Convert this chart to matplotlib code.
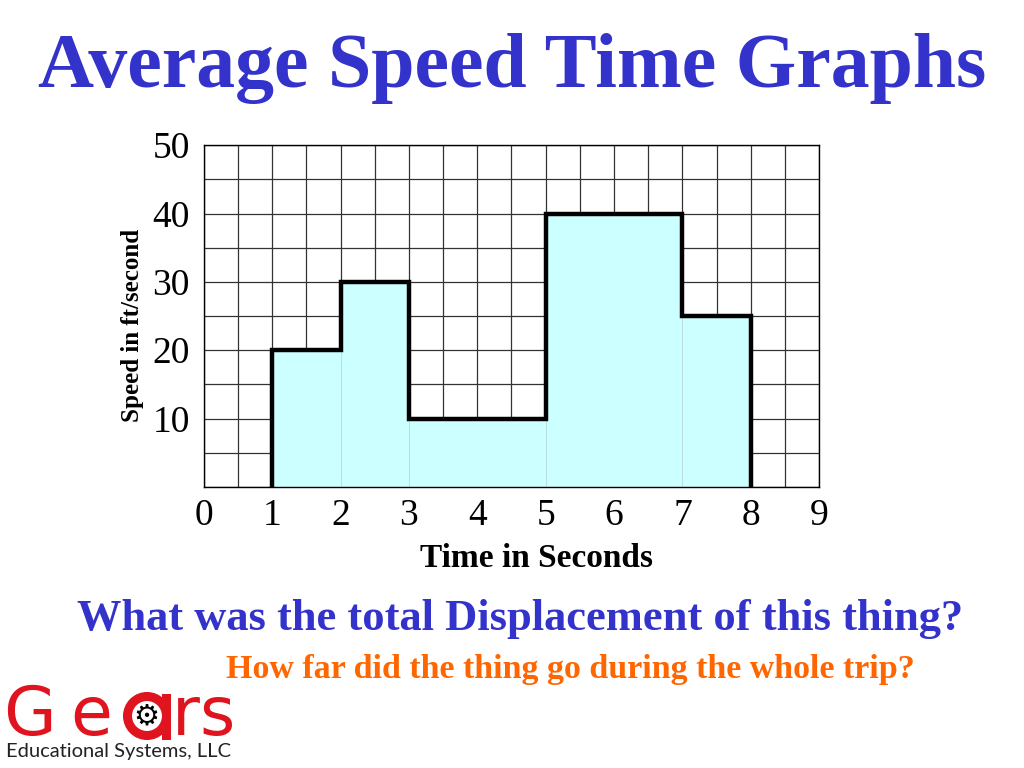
import matplotlib.pyplot as plt
from matplotlib.patches import Ellipse
import numpy as np

# step data
t_start = [1, 2, 3, 5, 7]
t_end = [2, 3, 5, 7, 8]
speed = [20, 30, 10, 40, 25]

x_ticks = [0, 1, 2, 3, 4, 5, 6, 7, 8, 9]
y_ticks = [10, 20, 30, 40, 50]

blue = '#3333CC'
orange = '#FF6600'
red = '#E0141E'
W, H = 1024, 768

fig = plt.figure(figsize=(10.24, 7.68), dpi=100)
ax = fig.add_axes([0.199, 0.366, 0.601, 0.445])

# grid every half second / 5 ft/s
for gx in np.arange(0, 9.01, 0.5):
    ax.axvline(gx, color='#333333', lw=0.9, zorder=1)
for gy in np.arange(0, 50.01, 5):
    ax.axhline(gy, color='#333333', lw=0.9, zorder=1)

# filled bars
for a, b, v in zip(t_start, t_end, speed):
    ax.bar(a, v, width=b - a, align='edge', color='#CCFFFF',
           edgecolor='#BBDDDD', lw=0.6, zorder=2)

# thick outline of the steps
xs = [t_start[0]]
ys = [0]
for a, b, v in zip(t_start, t_end, speed):
    xs += [a, b]
    ys += [v, v]
xs.append(t_end[-1])
ys.append(0)
ax.plot(xs, ys, color='black', lw=3.2, zorder=3, solid_joinstyle='miter')

ax.set_xlim(0, 9)
ax.set_ylim(0, 50)
ax.set_xticks(x_ticks)
ax.set_yticks(y_ticks)
ax.tick_params(length=0, labelsize=27)
ax.tick_params(axis='y', pad=10)
ax.tick_params(axis='x', pad=8)
for lab in ax.get_xticklabels() + ax.get_yticklabels():
    lab.set_fontfamily('Liberation Serif')
for s in ax.spines.values():
    s.set_color('black')
    s.set_linewidth(1)
    s.set_zorder(4)

# axis titles
fig.text(537 / W, 1 - 567 / H, 'Time in Seconds', ha='center', va='baseline',
         fontsize=24, fontweight='bold', family='Liberation Serif')
fig.text(132 / W, 1 - 325 / H, 'Speed in ft/second', ha='center', va='center',
         rotation=90, fontsize=18, fontweight='bold', family='Liberation Serif')

fig.text(0.5, 0.887, 'Average Speed Time Graphs', ha='center', va='baseline',
         fontsize=56, fontweight='bold', color=blue, family='Liberation Serif')
fig.text(0.508, 0.180, 'What was the total Displacement of this thing?', ha='center',
         va='baseline', fontsize=32, fontweight='bold', color=blue,
         family='Liberation Serif')
fig.text(570 / W, 1 - 678 / H, 'How far did the thing go during the whole trip?',
         ha='center', va='baseline', fontsize=24.5, fontweight='bold', color=orange,
         family='Liberation Serif')

# logo: G e (ring with gear) r s
base = 1 - 735 / H
for ch, px in [('G', 3), ('e', 70), ('r', 172), ('s', 199)]:
    fig.text(px / W, base, ch, ha='left', va='baseline', fontsize=49,
             color=red, family='DejaVu Sans')
r_out = 19.5
ring = Ellipse((147 / W, 1 - 716 / H), 2 * r_out / W, 2 * r_out / H,
               transform=fig.transFigure, facecolor='white', edgecolor=red, lw=6.5)
fig.add_artist(ring)
stem = plt.Line2D([166 / W, 166 / W], [1 - 698 / H, 1 - 735 / H],
                  transform=fig.transFigure, color=red, lw=6.5)
fig.add_artist(stem)
fig.text(146 / W, 1 - 716 / H, '\u2699', ha='center', va='center',
         fontsize=21, color='black', family='DejaVu Sans')
fig.text(6 / W, 1 - 757 / H, 'Educational Systems, LLC', ha='left', va='baseline',
         fontsize=14.5, color='#222222', family='Lato')

fig.savefig('out.png', dpi=100)
